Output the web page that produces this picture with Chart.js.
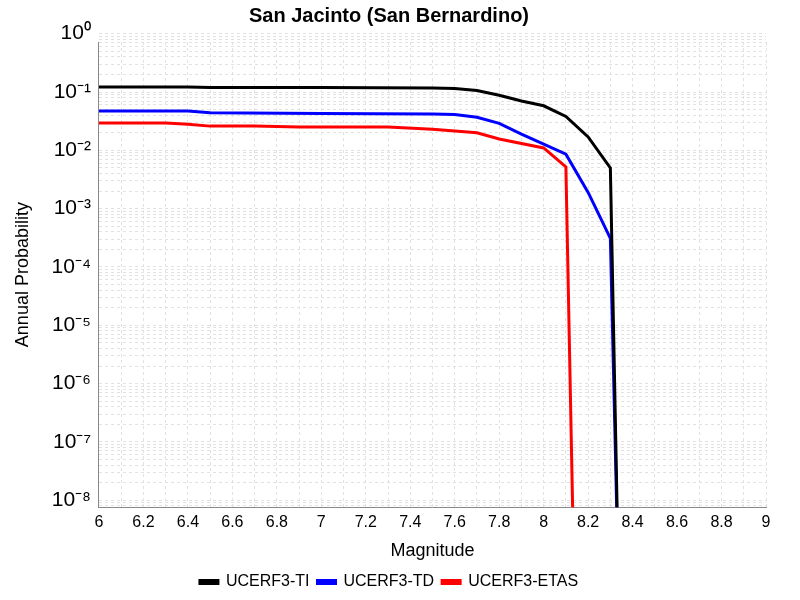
<!DOCTYPE html>
<html>
<head>
<meta charset="utf-8">
<script src="https://cdn.jsdelivr.net/npm/chart.js@4"></script>
<style>
  body { margin: 0; background: #fff; }
  #wrap { width: 800px; height: 600px; }
</style>
</head>
<body>
<div id="wrap"><canvas id="chart" width="800" height="600"></canvas></div>
<script>
// data
const tiMag = [6.0, 6.4, 6.5, 7.0, 7.5, 7.6, 7.7, 7.8, 7.9, 8.0, 8.1, 8.2, 8.3, 8.34];
const tiProb = [0.122, 0.122, 0.12, 0.119, 0.117, 0.115, 0.106, 0.088, 0.07, 0.058, 0.038, 0.017, 0.005, 1e-10];

const tdMag = [6.0, 6.4, 6.5, 7.0, 7.5, 7.6, 7.7, 7.8, 7.9, 8.0, 8.1, 8.2, 8.3, 8.34];
const tdProb = [0.047, 0.047, 0.044, 0.043, 0.042, 0.041, 0.037, 0.029, 0.019, 0.0128, 0.0086, 0.0019, 0.00031, 1e-10];

const etasMag = [6.0, 6.3, 6.4, 6.5, 6.7, 6.9, 7.3, 7.5, 7.7, 7.8, 8.0, 8.1, 8.14];
const etasProb = [0.0295, 0.0295, 0.028, 0.026, 0.026, 0.025, 0.025, 0.023, 0.02, 0.0156, 0.011, 0.0052, 1e-10];

const seriesNames = ['UCERF3-TI', 'UCERF3-TD', 'UCERF3-ETAS'];
const seriesColors = ['#000000', '#0000ff', '#ff0000'];

const sup = { '-': '⁻', '0': '⁰', '1': '¹', '2': '²', '3': '³', '4': '⁴', '5': '⁵', '6': '⁶', '7': '⁷', '8': '⁸', '9': '⁹' };
function powLabel(e) {
  return '10' + String(e).split('').map(c => sup[c]).join('');
}

function pts(xs, ys) {
  return xs.map((x, i) => ({ x: x, y: ys[i] }));
}

const dataSets = [pts(tiMag, tiProb), pts(tdMag, tdProb), pts(etasMag, etasProb)].map((d, i) => ({
  label: seriesNames[i],
  data: d,
  borderColor: seriesColors[i],
  backgroundColor: seriesColors[i],
  borderWidth: 3,
  pointRadius: 0,
  tension: 0
}));

const grid = { color: '#e2e2e2', drawTicks: false };
const border = { color: '#888', dash: [3, 3] };

new Chart(document.getElementById('chart').getContext('2d'), {
  type: 'line',
  data: { datasets: dataSets },
  options: {
    responsive: false,
    animation: false,
    layout: { padding: { left: 12, right: 34, top: 0, bottom: 0 } },
    plugins: {
      title: {
        display: true,
        text: 'San Jacinto (San Bernardino)',
        color: '#000',
        font: { family: 'Liberation Sans', size: 20, weight: 'bold' },
        padding: { top: 4, bottom: 14 }
      },
      legend: {
        position: 'bottom',
        labels: {
          color: '#000',
          font: { family: 'Liberation Sans', size: 16 },
          boxWidth: 18,
          boxHeight: 3,
          padding: 8
        }
      }
    },
    scales: {
      x: {
        type: 'linear',
        min: 6,
        max: 9,
        afterBuildTicks: axis => {
          const t = [];
          for (let i = 0; i <= 30; i++) t.push({ value: 6 + i * 0.1 });
          axis.ticks = t;
        },
        ticks: {
          color: '#000',
          font: { family: 'Liberation Sans', size: 16 },
          maxRotation: 0,
          autoSkip: false,
          padding: 6,
          callback: v => {
            const k = Math.round(v * 10);
            return k % 2 === 0 ? String(Math.round(v * 10) / 10) : '';
          }
        },
        grid: grid,
        border: border,
        title: {
          display: true,
          text: 'Magnitude',
          color: '#000',
          font: { family: 'Liberation Sans', size: 18 },
          padding: { top: 2, bottom: 4 }
        }
      },
      y: {
        type: 'logarithmic',
        min: 7.6e-9,
        max: 0.72,
        afterBuildTicks: axis => {
          const t = [];
          for (let e = -9; e <= 0; e++) {
            for (let m = 1; m <= 9; m++) {
              const v = m * Math.pow(10, e);
              if (v >= 7.6e-9 && v <= 1) t.push({ value: v });
            }
          }
          axis.ticks = t;
        },
        ticks: {
          color: '#000',
          font: { family: 'Liberation Sans', size: 21 },
          autoSkip: false,
          padding: 8,
          callback: v => {
            const e = Math.log10(v);
            return Math.abs(e - Math.round(e)) < 1e-6 ? powLabel(Math.round(e)) : '';
          }
        },
        grid: grid,
        border: border,
        title: {
          display: true,
          text: 'Annual Probability',
          color: '#000',
          font: { family: 'Liberation Sans', size: 18 },
          padding: { top: 0, bottom: 10 }
        }
      }
    }
  }
});
</script>
</body>
</html>
